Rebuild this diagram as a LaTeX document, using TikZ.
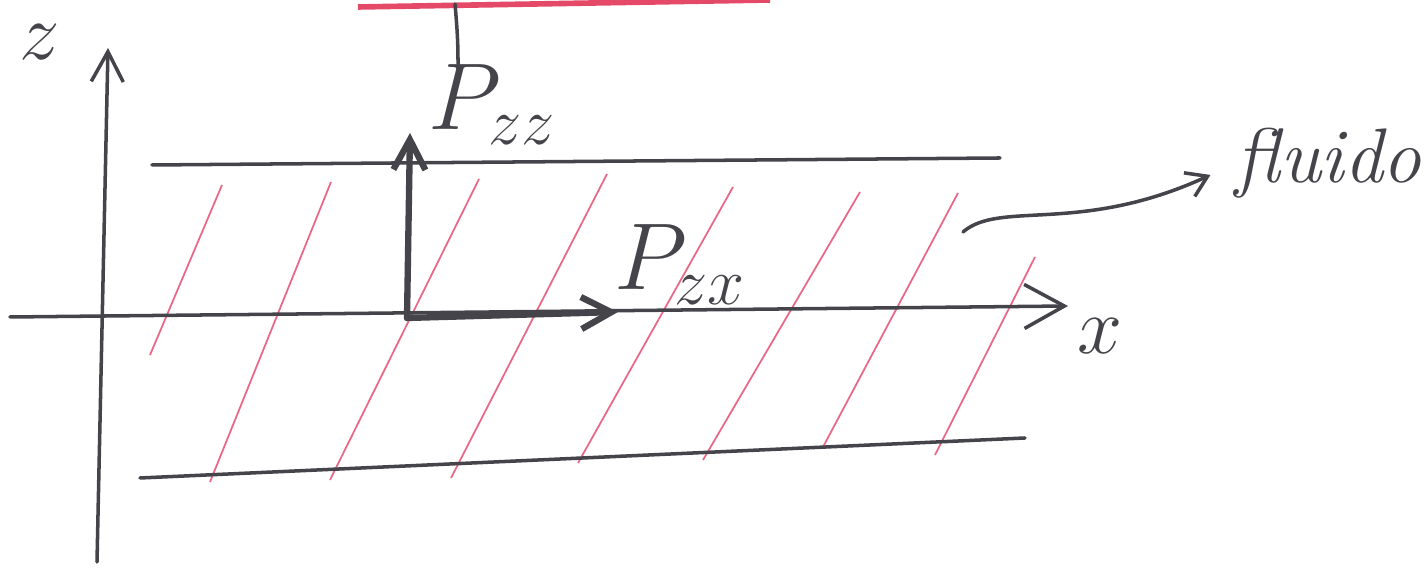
\RequirePackage{fix-cm}
\documentclass[tikz,border=0pt]{standalone}
\usetikzlibrary{arrows.meta}
\definecolor{pen}{RGB}{68,68,74}
\definecolor{ink}{RGB}{234,104,134}
\definecolor{redpen}{RGB}{228,74,104}
\begin{document}
\begin{tikzpicture}[x=0.01cm, y=-0.01cm, >={Straight Barb[length=3mm,width=3.2mm]},
		pen/.style={draw=pen, line width=1pt, line cap=round},
		force/.style={draw=pen, line width=1.8pt, line cap=round},
		hatch/.style={draw=ink, line width=0.5pt},
		lbl/.style={text=pen, inner sep=0pt, font=\fontsize{27}{29}\selectfont},
		axlbl/.style={text=pen, inner sep=0pt, font=\fontsize{23}{25}\selectfont}]
		\useasboundingbox (0,0) rectangle (1427,568);
		\coordinate (zb) at (97,562);
		\coordinate (zt) at (108,48);
		\coordinate (xl) at (10,317);
		\coordinate (xr) at (1068,306);
		\coordinate (p0) at (407,318);
		\coordinate (pzzend) at (410,133);
		\coordinate (pzxend) at (618,312);
		\coordinate (fs) at (963,232);
		\coordinate (tag) at (455,4);
		\node[axlbl] (zlab) at (40,42) {$z$};
		\node[axlbl] (xlab) at (1100,336) {$x$};
		\node[lbl, anchor=base west] (pzz) at (428,130) {$P_{zz}$};
		\node[lbl, anchor=base west] (pzx) at (614,290) {$P_{zx}$};
		\node[lbl, anchor=base west, font=\fontsize{22}{24}\selectfont\itshape] (fluido) at (1235,183) {fluido};
		\draw[redpen, line width=1.6pt] (358,7) -- (770,0);
		\draw[hatch] (222,185) -- (150,355);
		\draw[hatch] (331,182) -- (210,482);
		\draw[hatch] (479,179) -- (330,480);
		\draw[hatch] (607,174) -- (451,478);
		\draw[hatch] (733,187) -- (578,463);
		\draw[hatch] (860,192) -- (703,460);
		\draw[hatch] (958,193) -- (823,447);
		\draw[hatch] (1035,257) -- (935,455);
		\draw[pen] (152,165) -- (1000,158);
		\draw[pen] (140,478) -- (1025,438);
		\draw[pen, ->] (zb) -- (zt);
		\draw[pen, ->, >={Straight Barb[length=4mm,width=4.4mm]}] (xl) -- (xr);
		\draw[force, ->] (p0) -- (pzzend);
		\draw[force, ->] (p0) -- (pzxend);
		\draw[pen] (tag) to[out=-85,in=90] ([xshift=0.3cm]pzz.north west);
		\draw[pen, ->, >={Straight Barb[length=2mm,width=2.6mm]}, shorten >=0.27cm] (fs) .. controls (1000,200) and (1080,235) .. (fluido.west);
	\end{tikzpicture}
\end{document}
